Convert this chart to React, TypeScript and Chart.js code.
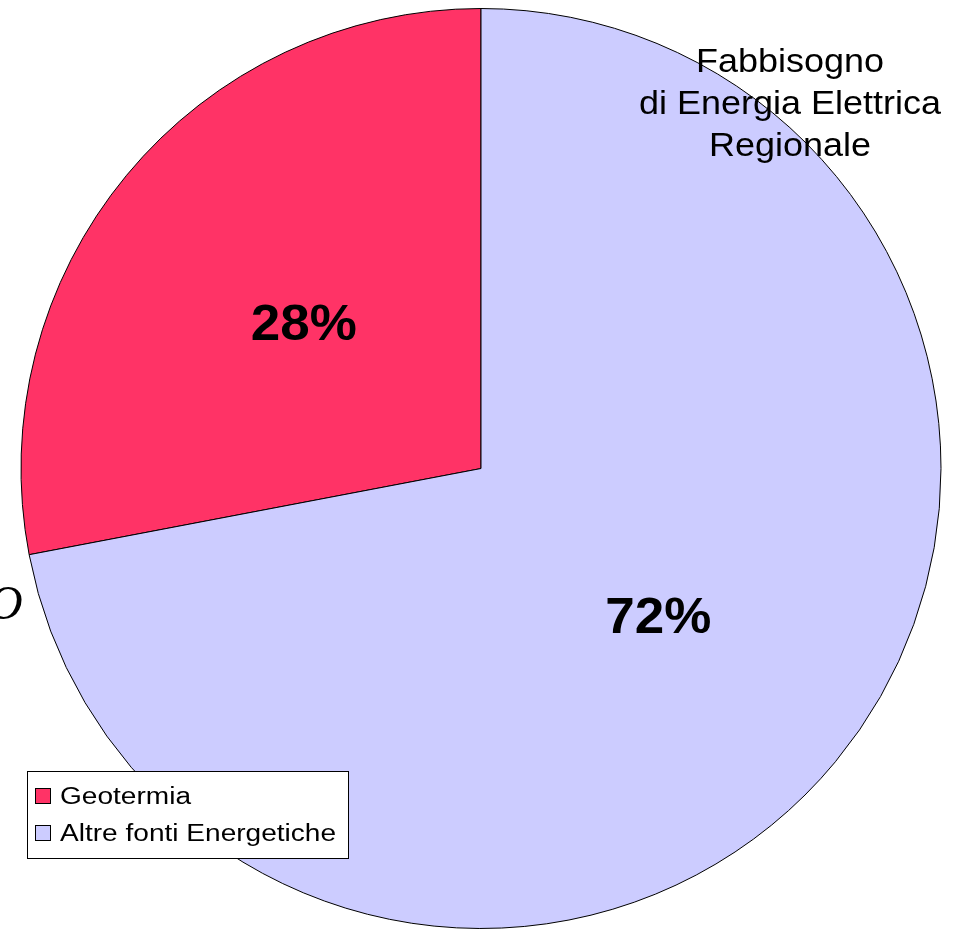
import React, { useEffect, useRef } from "react";
import { Chart, registerables } from "chart.js";

Chart.register(...registerables);

const categories = ["Geotermia", "Altre fonti Energetiche"];
const values = [28, 72];
const percentLabels = ["28%", "72%"];
const colors = ["#FF3366", "#CCCCFF"];
const titleLines = ["Fabbisogno", "di Energia Elettrica", "Regionale"];

function drawStretched(ctx: any, text: string, x: number, y: number, sx: number) {
  ctx.save();
  ctx.translate(x, y);
  ctx.scale(sx, 1);
  ctx.fillText(text, 0, 0);
  ctx.restore();
}

const overlayPlugin = {
  id: "overlay",
  afterDraw(chart: any) {
    const ctx = chart.ctx;
    const meta = chart.getDatasetMeta(0);
    ctx.save();
    // percentage labels
    ctx.fillStyle = "#000";
    ctx.font = "bold 50px 'Liberation Sans', Arial, sans-serif";
    ctx.textAlign = "center";
    ctx.textBaseline = "alphabetic";
    const radFactors = [0.5, 0.5];
    const dy = [18, 18];
    meta.data.forEach((arc: any, i: number) => {
      const p = arc.getProps(["x", "y", "startAngle", "endAngle", "outerRadius"], true);
      const mid = (p.startAngle + p.endAngle) / 2;
      const r = p.outerRadius * radFactors[i];
      drawStretched(ctx, percentLabels[i], p.x + Math.cos(mid) * r, p.y + Math.sin(mid) * r + dy[i], 1.06);
    });
    // title
    ctx.font = "33px 'Liberation Sans', Arial, sans-serif";
    titleLines.forEach((t, i) => drawStretched(ctx, t, 790, 72 + i * 42, 1.09));
    // cut-off italic letter
    ctx.font = "italic 48px 'Liberation Serif', 'Times New Roman', serif";
    ctx.textAlign = "left";
    ctx.fillText("O", -12, 619);
    // legend
    ctx.fillStyle = "#fff";
    ctx.fillRect(27.5, 771.5, 321, 87);
    ctx.strokeStyle = "#000";
    ctx.lineWidth = 1;
    ctx.strokeRect(27.5, 771.5, 321, 87);
    ctx.font = "23px 'Liberation Sans', Arial, sans-serif";
    categories.forEach((c, i) => {
      const y = 788 + i * 37;
      ctx.fillStyle = colors[i];
      ctx.fillRect(35.5, y + 0.5, 15, 15);
      ctx.strokeStyle = "#000";
      ctx.strokeRect(35.5, y + 0.5, 15, 15);
      ctx.fillStyle = "#000";
      drawStretched(ctx, c, 60, y + 15.5, 1.22);
    });
    ctx.restore();
  },
};

export default function App() {
  const ref = useRef<HTMLCanvasElement>(null);
  useEffect(() => {
    const chart = new Chart(ref.current!, {
      type: "pie",
      data: {
        labels: categories,
        datasets: [
          {
            data: values,
            backgroundColor: colors,
            borderColor: "#000",
            borderWidth: 1,
          },
        ],
      },
      options: {
        animation: false,
        responsive: false,
        rotation: -100.8,
        layout: { padding: { left: 19, right: 12, top: 8, bottom: 0 } },
        plugins: {
          legend: { display: false },
          tooltip: { enabled: false },
          title: { display: false },
        },
      },
      plugins: [overlayPlugin],
    });
    return () => chart.destroy();
  }, []);
  return (
    <div style={{ position: "fixed", left: 0, top: 0, width: 955, height: 929, background: "#fff" }}>
      <canvas ref={ref} width={955} height={929} style={{ width: 955, height: 929 }} />
    </div>
  );
}
